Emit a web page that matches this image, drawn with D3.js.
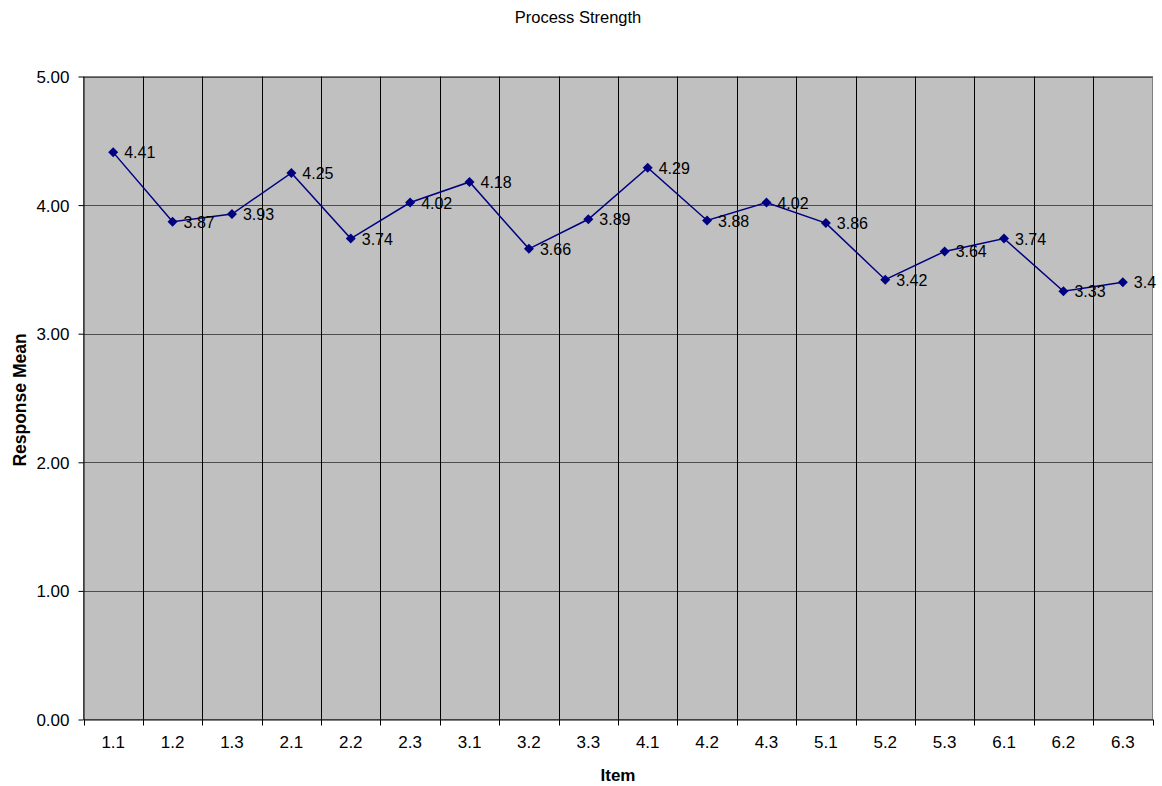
<!DOCTYPE html>
<html><head><meta charset="utf-8">
<script src="https://cdn.jsdelivr.net/npm/d3@7"></script>
<style>body{margin:0;background:#fff}svg{display:block;font-family:"Liberation Sans",Arial,sans-serif}</style>
</head><body>
<svg id="c" width="1162" height="786"></svg>
<script>
const categories = ["1.1","1.2","1.3","2.1","2.2","2.3","3.1","3.2","3.3","4.1","4.2","4.3","5.1","5.2","5.3","6.1","6.2","6.3"];
const values = [4.41,3.87,3.93,4.25,3.74,4.02,4.18,3.66,3.89,4.29,3.88,4.02,3.86,3.42,3.64,3.74,3.33,3.4];
const yTicks = [0,1,2,3,4,5];
const title = "Process Strength";
const xTitle = "Item";
const yTitle = "Response Mean";

const svg = d3.select("#c");
const L = 83.5, R = 1152.5, T = 76.5, B = 719.5;
const x = d3.scaleBand().domain(categories).range([L, R]);
const y = d3.scaleLinear().domain([0,5]).range([B, T]);

svg.append("rect").attr("x", L).attr("y", T).attr("width", R-L).attr("height", B-T)
  .attr("fill", "#c0c0c0").attr("stroke", "#808080").attr("stroke-width", 1);

// horizontal gridlines
svg.append("g").selectAll("line").data(yTicks.filter(d => d > 0)).join("line")
  .attr("x1", L).attr("x2", R).attr("y1", d => Math.round(y(d)) + 0.5).attr("y2", d => Math.round(y(d)) + 0.5)
  .attr("stroke", "#4d4d4d").attr("stroke-width", 1);
// vertical gridlines at category boundaries
const bounds = categories.slice(1).map(c => x(c));
svg.append("g").selectAll("line").data(bounds).join("line")
  .attr("x1", d => Math.round(d) + 0.5).attr("x2", d => Math.round(d) + 0.5).attr("y1", T).attr("y2", B)
  .attr("stroke", "#000").attr("stroke-width", 1);

// y axis
const yAxis = svg.append("g").attr("transform", `translate(${L},0)`)
  .call(d3.axisLeft(y).tickValues(yTicks).tickFormat(d3.format(".2f")).tickSize(5).tickSizeOuter(0));
yAxis.select(".domain").attr("stroke", "#000");
yAxis.selectAll(".tick line").attr("stroke", "#000");
yAxis.selectAll("text").attr("font-size", 17).attr("fill", "#000").attr("font-family", "Liberation Sans, Arial, sans-serif").attr("dx", "-6").attr("dy", "0.35em");

// x axis
const xAxis = svg.append("g").attr("transform", `translate(0,${B})`)
  .call(d3.axisBottom(x).tickSize(0).tickSizeOuter(0));
xAxis.select(".domain").attr("stroke", "#000");
xAxis.selectAll("text").attr("font-size", 17).attr("fill", "#000").attr("font-family", "Liberation Sans, Arial, sans-serif").attr("dy", "1.5em");
svg.append("g").selectAll("line").data([L, ...bounds, R]).join("line")
  .attr("x1", d => Math.round(d) + 0.5).attr("x2", d => Math.round(d) + 0.5).attr("y1", B).attr("y2", B + 6)
  .attr("stroke", "#000");

// line
const cx = c => x(c) + x.bandwidth() / 2;
svg.append("path").datum(values)
  .attr("d", d3.line().x((d,i) => cx(categories[i])).y(d => y(d)))
  .attr("fill", "none").attr("stroke", "#000080").attr("stroke-width", 1.5);
svg.append("g").selectAll("path").data(values).join("path")
  .attr("transform", (d,i) => `translate(${cx(categories[i])},${y(d)})`)
  .attr("d", "M0,-5L5,0L0,5L-5,0Z").attr("fill", "#000080");
svg.append("g").selectAll("text").data(values).join("text")
  .attr("x", (d,i) => cx(categories[i]) + 11).attr("y", d => y(d) + 6)
  .attr("font-size", 16).attr("fill", "#000").text(d => String(d));

// titles
svg.append("text").attr("x", 578).attr("y", 23).attr("text-anchor", "middle").attr("font-size", 16.5).text(title);
svg.append("text").attr("x", 618).attr("y", 781).attr("text-anchor", "middle").attr("font-size", 17).attr("font-weight", "bold").text(xTitle);
svg.append("text").attr("transform", "translate(26,400) rotate(-90)").attr("text-anchor", "middle").attr("font-size", 17.5).attr("font-weight", "bold").text(yTitle);
</script>
</body></html>
